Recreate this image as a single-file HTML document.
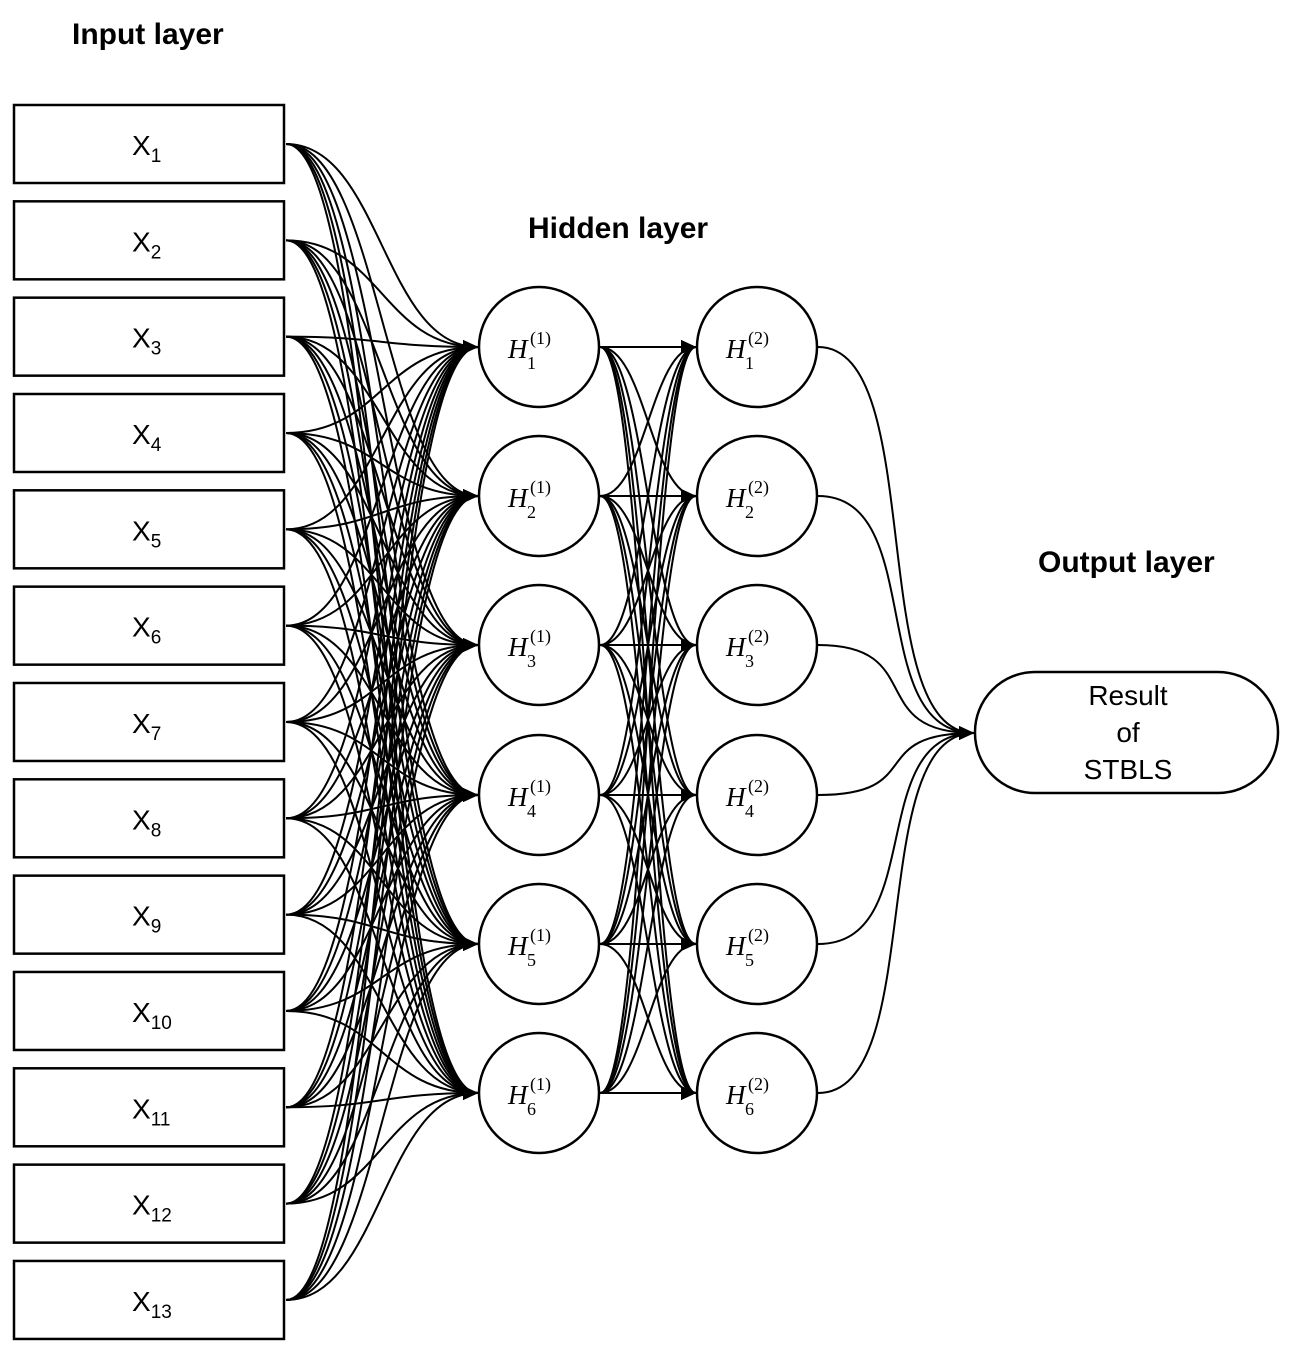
<!DOCTYPE html>
<html><head><meta charset="utf-8"><style>
body{margin:0;background:#fff;}
svg{display:block;}
text{font-family:"Liberation Sans",sans-serif;}
.t{font-weight:bold;font-size:30px;}
.x{font-size:28px;}
.h{font-family:"Liberation Serif",serif;font-style:italic;font-size:27px;}
.s{font-family:"Liberation Serif",serif;font-size:18px;}
</style></head><body>
<svg id="s" width="1298" height="1352" viewBox="0 0 1298 1352" xmlns="http://www.w3.org/2000/svg">
<defs><marker id="a" markerWidth="16" markerHeight="16" refX="15" refY="7" orient="auto" markerUnits="userSpaceOnUse"><path d="M0,0L15,7L0,14z" fill="#000"/></marker></defs>
<text class="t" x="72" y="44">Input layer</text>
<text class="t" x="528" y="238">Hidden layer</text>
<text class="t" x="1038" y="572">Output layer</text>
<g id="lines" fill="none" stroke="#000" stroke-width="2"></g>
<g id="nodes" stroke="#000" stroke-width="2.5" fill="#fff"></g>
<rect x="975" y="672" width="303" height="121" rx="60" fill="#fff" stroke="#000" stroke-width="2.5"/>
<text x="1128" y="705" font-size="28" text-anchor="middle">Result</text>
<text x="1128" y="742" font-size="28" text-anchor="middle">of</text>
<text x="1128" y="779" font-size="28" text-anchor="middle">STBLS</text>
</svg>
<script>
var NS="http://www.w3.org/2000/svg",L=document.getElementById("lines"),N=document.getElementById("nodes"),S=document.getElementById("s");
function el(t,a,p){var e=document.createElementNS(NS,t);for(var k in a)e.setAttribute(k,a[k]);(p||S).appendChild(e);return e;}
var xs=[],hy=[347,496,645,795,944,1093];
for(var i=0;i<13;i++)xs.push(144+i*96.33);
function c(x0,y0,x1,y1,d){el("path",{d:"M"+x0+","+y0+"C"+(x0+d)+","+y0+" "+(x1-d)+","+y1+" "+x1+","+y1,"marker-end":"url(#a)"},L);}
xs.forEach(function(y){hy.forEach(function(t){c(286,y,478,t,95);});});
hy.forEach(function(y){hy.forEach(function(t){c(600,y,696,t,45);});});
hy.forEach(function(y){c(818,y,974,733,110);});
for(var i=0;i<13;i++){var y=xs[i];
el("rect",{x:14,y:y-39,width:270,height:78},N);
var t=el("text",{x:132,y:y+11,"class":"x",stroke:"none",fill:"#000"});t.textContent="X";
var b=el("tspan",{dy:7,"font-size":19},t);b.textContent=(i+1);}
[539,757].forEach(function(cx,j){hy.forEach(function(y,k){
el("circle",{cx:cx,cy:y,r:60},N);
var t=el("text",{x:cx-31,y:y+11,"class":"h",stroke:"none",fill:"#000"});t.textContent="H";
var s=el("text",{x:cx-12,y:y+22,"class":"s",stroke:"none",fill:"#000"});s.textContent=k+1;
var p=el("text",{x:cx-9,y:y-3,"class":"s",stroke:"none",fill:"#000"});p.textContent="("+(j+1)+")";
});});
</script>
</body></html>
